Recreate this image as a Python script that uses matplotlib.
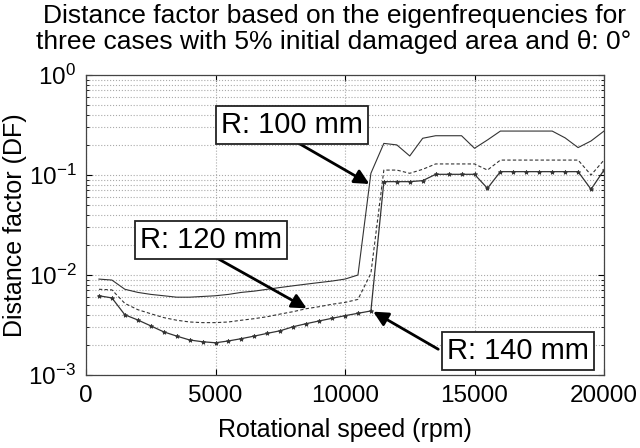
import matplotlib
matplotlib.use("Agg")
from matplotlib import pyplot as plt
from matplotlib.ticker import LogLocator, NullFormatter

plt.rcParams['font.family'] = ['Liberation Sans', 'DejaVu Sans']
plt.rcParams['mathtext.fontset'] = 'custom'
plt.rcParams['mathtext.rm'] = 'Liberation Sans'
plt.rcParams['mathtext.it'] = 'Liberation Sans'

# rotational speed (rpm)
rpm = [500, 1000, 1500, 2000, 2500, 3000, 3500, 4000, 4500, 5000,
       5500, 6000, 6500, 7000, 7500, 8000, 8500, 9000, 9500, 10000,
       10500, 11000, 11500, 12000, 12500, 13000, 13500, 14000, 14500, 15000,
       15500, 16000, 16500, 17000, 17500, 18000, 18500, 19000, 19500, 20000]

df_r100 = [0.0091, 0.0089, 0.0072, 0.0067, 0.0064, 0.0062, 0.0060, 0.0060, 0.0061, 0.0062,
           0.0064, 0.0067, 0.0069, 0.0072, 0.0075, 0.0078, 0.0081, 0.0084, 0.0087, 0.0091,
           0.0100, 0.104, 0.207, 0.200, 0.155, 0.233, 0.247, 0.247, 0.247, 0.185,
           0.224, 0.275, 0.275, 0.275, 0.275, 0.275, 0.235, 0.188, 0.219, 0.275]

df_r120 = [0.0072, 0.0071, 0.0052, 0.0045, 0.0041, 0.00375, 0.00353, 0.00339, 0.00334, 0.00334,
           0.00339, 0.00353, 0.00366, 0.00383, 0.00407, 0.0043, 0.0046, 0.00482, 0.0051, 0.00532,
           0.0057, 0.0104, 0.112, 0.112, 0.104, 0.114, 0.129, 0.129, 0.129, 0.129,
           0.112, 0.141, 0.141, 0.141, 0.141, 0.141, 0.141, 0.141, 0.100, 0.141]

df_r140 = [0.0062, 0.0059, 0.0040, 0.00355, 0.0031, 0.0027, 0.00245, 0.00224, 0.00215, 0.0021,
           0.00219, 0.00231, 0.00245, 0.00261, 0.00277, 0.00304, 0.00326, 0.00347, 0.00369, 0.00392,
           0.00414, 0.00437, 0.0858, 0.0858, 0.0858, 0.0878, 0.1016, 0.1016, 0.1016, 0.1016,
           0.0736, 0.108, 0.108, 0.108, 0.108, 0.108, 0.108, 0.108, 0.072, 0.112]

labels = ["R: 100 mm", "R: 120 mm", "R: 140 mm"]
label_pos = [(7950, 0.316), (4830, 0.0224), (16680, 0.00174)]
arrow_tail = [(7990, 0.224), (4850, 0.0158), (13600, 0.00181)]
arrow_head = [(10940, 0.0813), (8520, 0.00464), (11090, 0.0043)]

fig = plt.figure(figsize=(6.4, 4.48), dpi=100)
ax = fig.add_axes([86 / 640, 1 - 375 / 448, (604 - 86) / 640, 300 / 448])

ax.plot(rpm, df_r100, '-', color='#333333', lw=0.8)
ax.plot(rpm, df_r120, '--', color='#333333', lw=0.8, dashes=(3, 2))
ax.plot(rpm, df_r140, '-', color='#333333', lw=0.9, marker='*', ms=3.2, mew=0.6)

ax.set_yscale('log')
ax.set_xlim(0, 20000)
ax.set_ylim(1e-3, 1)
ax.set_xticks([0, 5000, 10000, 15000, 20000])
ax.yaxis.set_major_locator(LogLocator(base=10, numticks=10))
ax.yaxis.set_minor_locator(LogLocator(base=10, subs=range(2, 10), numticks=10))
ax.yaxis.set_minor_formatter(NullFormatter())

ax.grid(True, which='major', axis='both', color='#aaaaaa', ls=':', lw=0.8)
ax.grid(True, which='minor', axis='y', color='#aaaaaa', ls=':', lw=0.8)
ax.tick_params(which='both', direction='in', top=True, right=True, labelsize=17.5, pad=7)
ax.tick_params(which='major', length=4)
ax.tick_params(which='minor', length=2)
for s in ax.spines.values():
    s.set_color('#444444')
    s.set_linewidth(0.9)

ax.set_xlabel("Rotational speed (rpm)", fontsize=18, labelpad=8)
ax.set_ylabel("Distance factor (DF)", fontsize=18, labelpad=1)

fig.text(0.522, 0.99, "Distance factor based on the eigenfrequencies for\n"
         "three cases with 5% initial damaged area and θ: 0°",
         ha='center', va='top', fontsize=19, linespacing=1.08)

for lab, pos, tail, head in zip(labels, label_pos, arrow_tail, arrow_head):
    ax.annotate('', xy=head, xytext=tail,
                arrowprops=dict(arrowstyle='-|>', lw=2, color='black',
                                mutation_scale=22, shrinkA=0, shrinkB=0))
    ax.text(pos[0], pos[1], lab, ha='center', va='center', fontsize=21,
            bbox=dict(boxstyle='square,pad=0.17', fc='white', ec='#222222', lw=1.3))

plt.savefig('out.png', dpi=100)
